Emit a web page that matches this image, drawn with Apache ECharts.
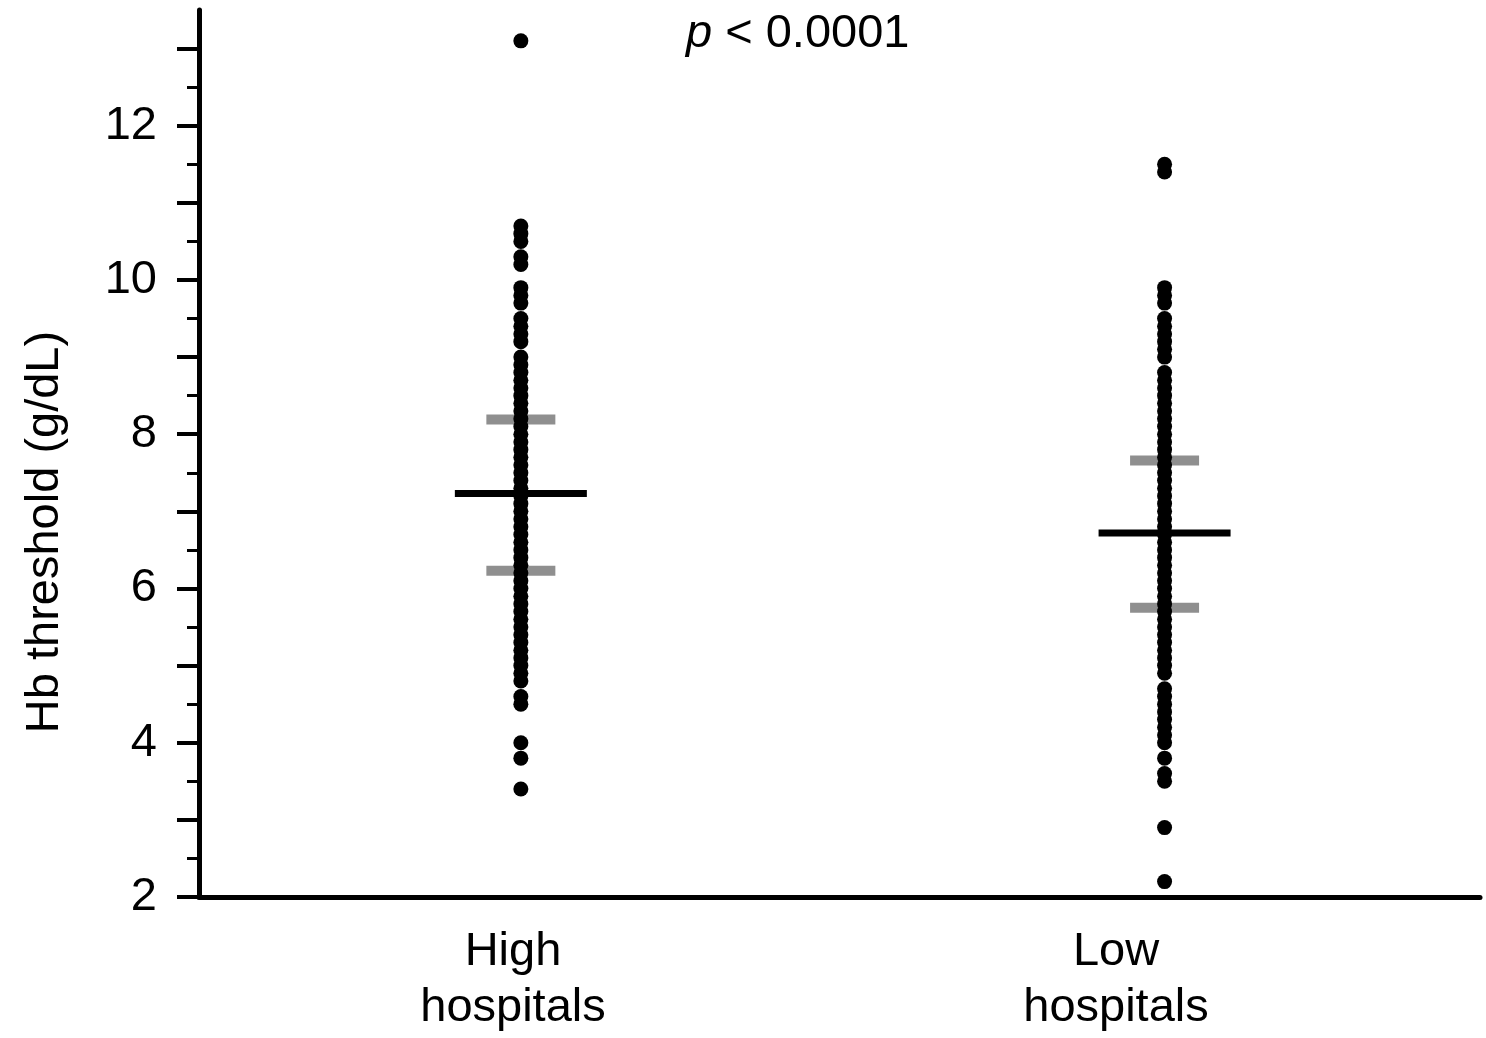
<!DOCTYPE html>
<html>
<head>
<meta charset="utf-8">
<script src="https://cdn.jsdelivr.net/npm/echarts@6/dist/echarts.min.js"></script>
<style>
html,body{margin:0;padding:0;background:#fff;}
#chart{width:1486px;height:1038px;}
</style>
</head>
<body>
<div id="chart"></div>
<script>
// ---- data ----
const categories = ['High\nhospitals', 'Low\nhospitals'];
const groupX = [1, 3];
const highValues = [13.1, 10.7, 10.6, 10.5, 10.3, 10.2, 9.9, 9.8, 9.7, 9.5, 9.4, 9.3, 9.2,
  9.0, 8.9, 8.8, 8.7, 8.6, 8.5, 8.4, 8.3, 8.2, 8.1, 8.0, 7.9, 7.8, 7.7, 7.6, 7.5, 7.4, 7.3, 7.2,
  7.1, 7.0, 6.9, 6.8, 6.7, 6.6, 6.5, 6.4, 6.3, 6.2, 6.1, 6.0, 5.9, 5.8, 5.7, 5.6, 5.5, 5.4, 5.3,
  5.2, 5.1, 5.0, 4.9, 4.8, 4.6, 4.5, 4.0, 3.8, 3.4];
const lowValues = [11.5, 11.4, 9.9, 9.8, 9.7, 9.5, 9.4, 9.3, 9.2, 9.1, 9.0,
  8.8, 8.7, 8.6, 8.5, 8.4, 8.3, 8.2, 8.1, 8.0, 7.9, 7.8, 7.7, 7.6, 7.5, 7.4, 7.3, 7.2, 7.1, 7.0,
  6.9, 6.8, 6.7, 6.6, 6.5, 6.4, 6.3, 6.2, 6.1, 6.0, 5.9, 5.8, 5.7, 5.6, 5.5, 5.4, 5.3, 5.2, 5.1,
  5.0, 4.9, 4.7, 4.6, 4.5, 4.4, 4.3, 4.2, 4.1, 4.0, 3.8, 3.6, 3.5, 2.9, 2.2];
const means = [7.23, 6.72];
const upperSD = [8.19, 7.66];
const lowerSD = [6.23, 5.75];
const yMajorTicks = [2, 3, 4, 5, 6, 7, 8, 9, 10, 11, 12, 13];
const yMinorTicks = [2.5, 3.5, 4.5, 5.5, 6.5, 7.5, 8.5, 9.5, 10.5, 11.5, 12.5];
const yTickLabels = [2, 4, 6, 8, 10, 12];
const yTitle = 'Hb threshold (g/dL)';
const pText = '{i|p} < 0.0001';

// ---- chart ----
const FONT = '"Liberation Sans", Arial, Helvetica, sans-serif';
const chart = echarts.init(document.getElementById('chart'), null, {renderer: 'canvas'});

const yBase = {
  type: 'value', min: 2, max: 13.5, interval: 1,
  splitLine: {show: false}
};

const option = {
  animation: false,
  backgroundColor: '#fff',
  grid: {left: 199, right: 6, top: 10, bottom: 141, containLabel: false},
  xAxis: {
    type: 'value', min: 0, max: 3.98,
    axisLine: {show: true, lineStyle: {color: '#000', width: 5}},
    axisTick: {show: false},
    axisLabel: {show: false},
    splitLine: {show: false}
  },
  yAxis: [
    Object.assign({}, yBase, {
      axisLine: {show: true, lineStyle: {color: '#000', width: 5}},
      axisTick: {show: true, length: 22, customValues: yMajorTicks, lineStyle: {color: '#000', width: 4}},
      axisLabel: {show: true, customValues: yTickLabels, margin: 42, color: '#000', fontSize: 47, fontFamily: FONT}
    }),
    Object.assign({}, yBase, {
      position: 'left',
      axisLine: {show: false},
      axisTick: {show: true, length: 12, customValues: yMinorTicks, lineStyle: {color: '#000', width: 3}},
      axisLabel: {show: false}
    })
  ],
  series: [
    {
      type: 'scatter', name: 'SD', z: 1,
      symbol: 'rect', symbolSize: [69, 10],
      itemStyle: {color: '#8f8f8f', opacity: 1},
      data: groupX.map((x, i) => [x, upperSD[i]]).concat(groupX.map((x, i) => [x, lowerSD[i]]))
    },
    {
      type: 'scatter', name: 'High', z: 2,
      symbol: 'circle', symbolSize: 15,
      itemStyle: {color: '#000', opacity: 1},
      data: highValues.map(v => [groupX[0], v])
    },
    {
      type: 'scatter', name: 'Low', z: 2,
      symbol: 'circle', symbolSize: 15,
      itemStyle: {color: '#000', opacity: 1},
      data: lowValues.map(v => [groupX[1], v])
    },
    {
      type: 'scatter', name: 'Mean', z: 3,
      symbol: 'rect', symbolSize: [132, 7],
      itemStyle: {color: '#000', opacity: 1},
      data: groupX.map((x, i) => [x, means[i]])
    }
  ],
  graphic: [
    {
      type: 'text', x: 45, y: 532, rotation: Math.PI / 2,
      style: {text: yTitle, fontSize: 47, fontFamily: FONT, fill: '#000', align: 'center', verticalAlign: 'middle'}
    },
    {
      type: 'text', x: 686, y: 34,
      style: {
        text: pText, fontSize: 47, fontFamily: FONT, fill: '#000', align: 'left', verticalAlign: 'middle',
        rich: {i: {fontStyle: 'italic', fontSize: 47, fontFamily: FONT, fill: '#000'}}
      }
    },
    {
      type: 'text', x: 513, y: 980,
      style: {text: categories[0], fontSize: 47, lineHeight: 56, fontFamily: FONT, fill: '#000', align: 'center', verticalAlign: 'middle'}
    },
    {
      type: 'text', x: 1116, y: 980,
      style: {text: categories[1], fontSize: 47, lineHeight: 56, fontFamily: FONT, fill: '#000', align: 'center', verticalAlign: 'middle'}
    }
  ]
};
chart.setOption(option);
</script>
</body>
</html>
